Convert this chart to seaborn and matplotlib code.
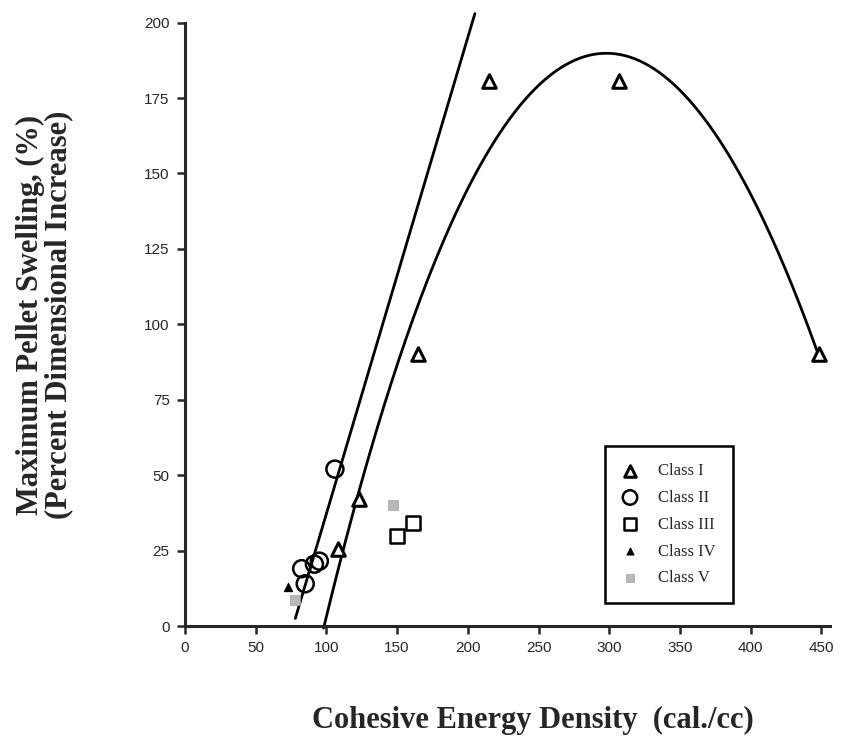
import numpy as np
import pandas as pd
import matplotlib
matplotlib.use("Agg")
import matplotlib.pyplot as plt
import seaborn as sns

# values
class_i_ced = [108.5, 123, 165, 215, 307, 448]
class_i_swell = [25.6, 42, 90, 180.5, 180.5, 90]
class_ii_ced = [106, 82.5, 91.5, 95, 85]
class_ii_swell = [52, 19, 20.5, 21.5, 14]
class_iii_ced = [150, 161]
class_iii_swell = [30, 34]
class_iv_ced = [73]
class_iv_swell = [13]
class_v_ced = [78, 147]
class_v_swell = [8.5, 40]

# hand-drawn trend lines, points read along them
line_ced = [78, 205]
line_swell = [2.5, 203]
curve_ced = [98, 123, 150, 200, 250, 297, 350, 392, 448]
curve_swell = [0, 44, 86, 145, 180, 190, 177, 150, 90]

x_ticks = [0, 50, 100, 150, 200, 250, 300, 350, 400, 450]
y_ticks = [0, 25, 50, 75, 100, 125, 150, 175, 200]

sns.set_style("ticks")
plt.rcParams["font.family"] = ["Liberation Sans", "DejaVu Sans"]

fig = plt.figure(figsize=(8.41, 7.37), dpi=100)
ax = fig.add_axes([0.2200, 0.1506, 0.7667, 0.8187])

# trend lines
sns.lineplot(x=line_ced, y=line_swell, ax=ax, color="black", lw=2, sort=False, clip_on=False)
coef = np.polyfit(curve_ced, curve_swell, 3)
xs = np.linspace(curve_ced[0], curve_ced[-1], 200)
sns.lineplot(x=xs, y=np.polyval(coef, xs), ax=ax, color="black", lw=2, sort=False, clip_on=False)

classes = [
    ("Class I", class_i_ced, class_i_swell, dict(marker="^", s=95, facecolor="white", edgecolor="black", linewidth=2.2)),
    ("Class II", class_ii_ced, class_ii_swell, dict(marker="o", s=150, facecolor="none", edgecolor="black", linewidth=1.8)),
    ("Class III", class_iii_ced, class_iii_swell, dict(marker="s", s=110, facecolor="white", edgecolor="black", linewidth=1.8)),
    ("Class IV", class_iv_ced, class_iv_swell, dict(marker="^", s=35, facecolor="black", edgecolor="black", linewidth=0.8)),
    ("Class V", class_v_ced, class_v_swell, dict(marker="s", s=45, facecolor="#b8b8b8", edgecolor="#a0a0a0", linewidth=0.5)),
]

for name, xv, yv, style in classes:
    df = pd.DataFrame({"ced": xv, "swell": yv})
    sns.scatterplot(data=df, x="ced", y="swell", ax=ax, label=name, zorder=3, clip_on=False, **style)

ax.set_xlim(0, 456)
ax.set_ylim(0, 200)
ax.set_xticks(x_ticks)
ax.set_yticks(y_ticks)
ax.tick_params(axis="both", direction="out", length=6, width=1.8, labelsize=11, pad=5)
for s in ["top", "right"]:
    ax.spines[s].set_visible(False)
for s in ["left", "bottom"]:
    ax.spines[s].set_linewidth(2.2)
ax.set_xlabel("")
ax.set_ylabel("")

leg = ax.legend(loc="lower left", bbox_to_anchor=(605 / 841, 134 / 737), bbox_transform=fig.transFigure,
                frameon=True, fancybox=False, prop={"family": "Liberation Serif", "size": 12},
                labelspacing=0.65, handletextpad=1.2, borderpad=1.0, borderaxespad=0,
                markerscale=0.85, handlelength=1.0)
leg.get_frame().set_edgecolor("black")
leg.get_frame().set_linewidth(1.8)
leg.get_frame().set_alpha(1)

fig.text(533 / 841, 1 - 720 / 737, "Cohesive Energy Density  (cal./cc)", ha="center", va="center",
         family="Liberation Serif", fontweight="bold", fontsize=22)
fig.text(45 / 841, 1 - 315 / 737, "Maximum Pellet Swelling, (%)\n(Percent Dimensional Increase)",
         ha="center", va="center", rotation=90, multialignment="center",
         family="Liberation Serif", fontweight="bold", fontsize=22, linespacing=0.97)

fig.savefig("out.png", dpi=100)
